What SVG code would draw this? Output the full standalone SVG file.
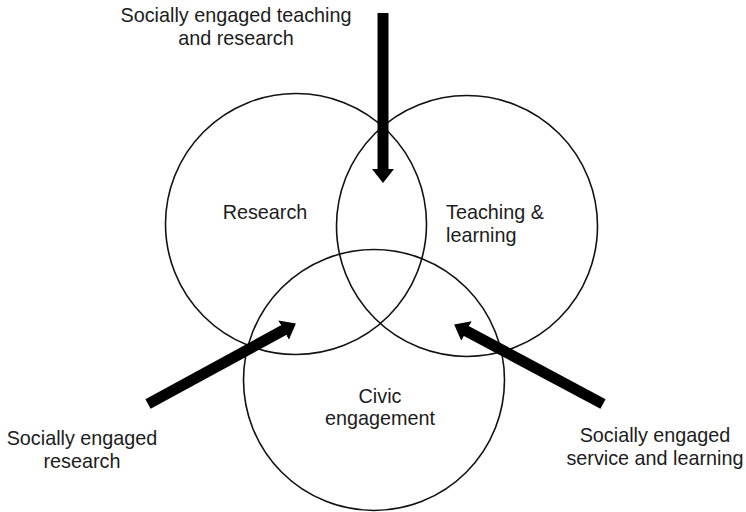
<svg xmlns="http://www.w3.org/2000/svg" width="746" height="512" viewBox="0 0 746 512">
<style>
.c{fill:none;stroke:#111;stroke-width:1.6}
.t{font-family:"Liberation Sans",Arial,sans-serif;font-size:19.8px;fill:#1c1c1c}
.a{fill:none;stroke:#000;stroke-width:11;marker-end:url(#h)}
</style>
<defs>
<marker id="h" markerUnits="userSpaceOnUse" markerWidth="14" markerHeight="22" viewBox="0 0 14 22" refX="1" refY="11" orient="auto">
<path d="M0,0 L14,11 L0,22 z" fill="#000"/>
</marker>
</defs>
<rect width="746" height="512" fill="#fff"/>
<g id="research">
<circle class="c" cx="296" cy="224" r="130.5"/>
<text class="t" x="265" y="219" text-anchor="middle">Research</text>
</g>
<g id="teaching">
<circle class="c" cx="467" cy="226" r="130.5"/>
<text class="t" x="446" y="219">Teaching &amp;</text>
<text class="t" x="446" y="242">learning</text>
</g>
<g id="civic">
<circle class="c" cx="374" cy="380" r="130.5"/>
<text class="t" x="380" y="403" text-anchor="middle">Civic</text>
<text class="t" x="380" y="425" text-anchor="middle">engagement</text>
</g>
<g id="label-top">
<text class="t" x="236" y="22" text-anchor="middle">Socially engaged teaching</text>
<text class="t" x="236" y="45" text-anchor="middle">and research</text>
</g>
<g id="label-left">
<text class="t" x="82" y="445" text-anchor="middle">Socially engaged</text>
<text class="t" x="82" y="468" text-anchor="middle">research</text>
</g>
<g id="label-right">
<text class="t" x="655" y="442" text-anchor="middle">Socially engaged</text>
<text class="t" x="655" y="465" text-anchor="middle">service and learning</text>
</g>
<g id="connectors">
<path class="a" d="M383,13 L383,170"/>
<path class="a" d="M148,404 L284.5,329.7"/>
<path class="a" d="M603,404 L465.6,330.6"/>
</g>
</svg>
